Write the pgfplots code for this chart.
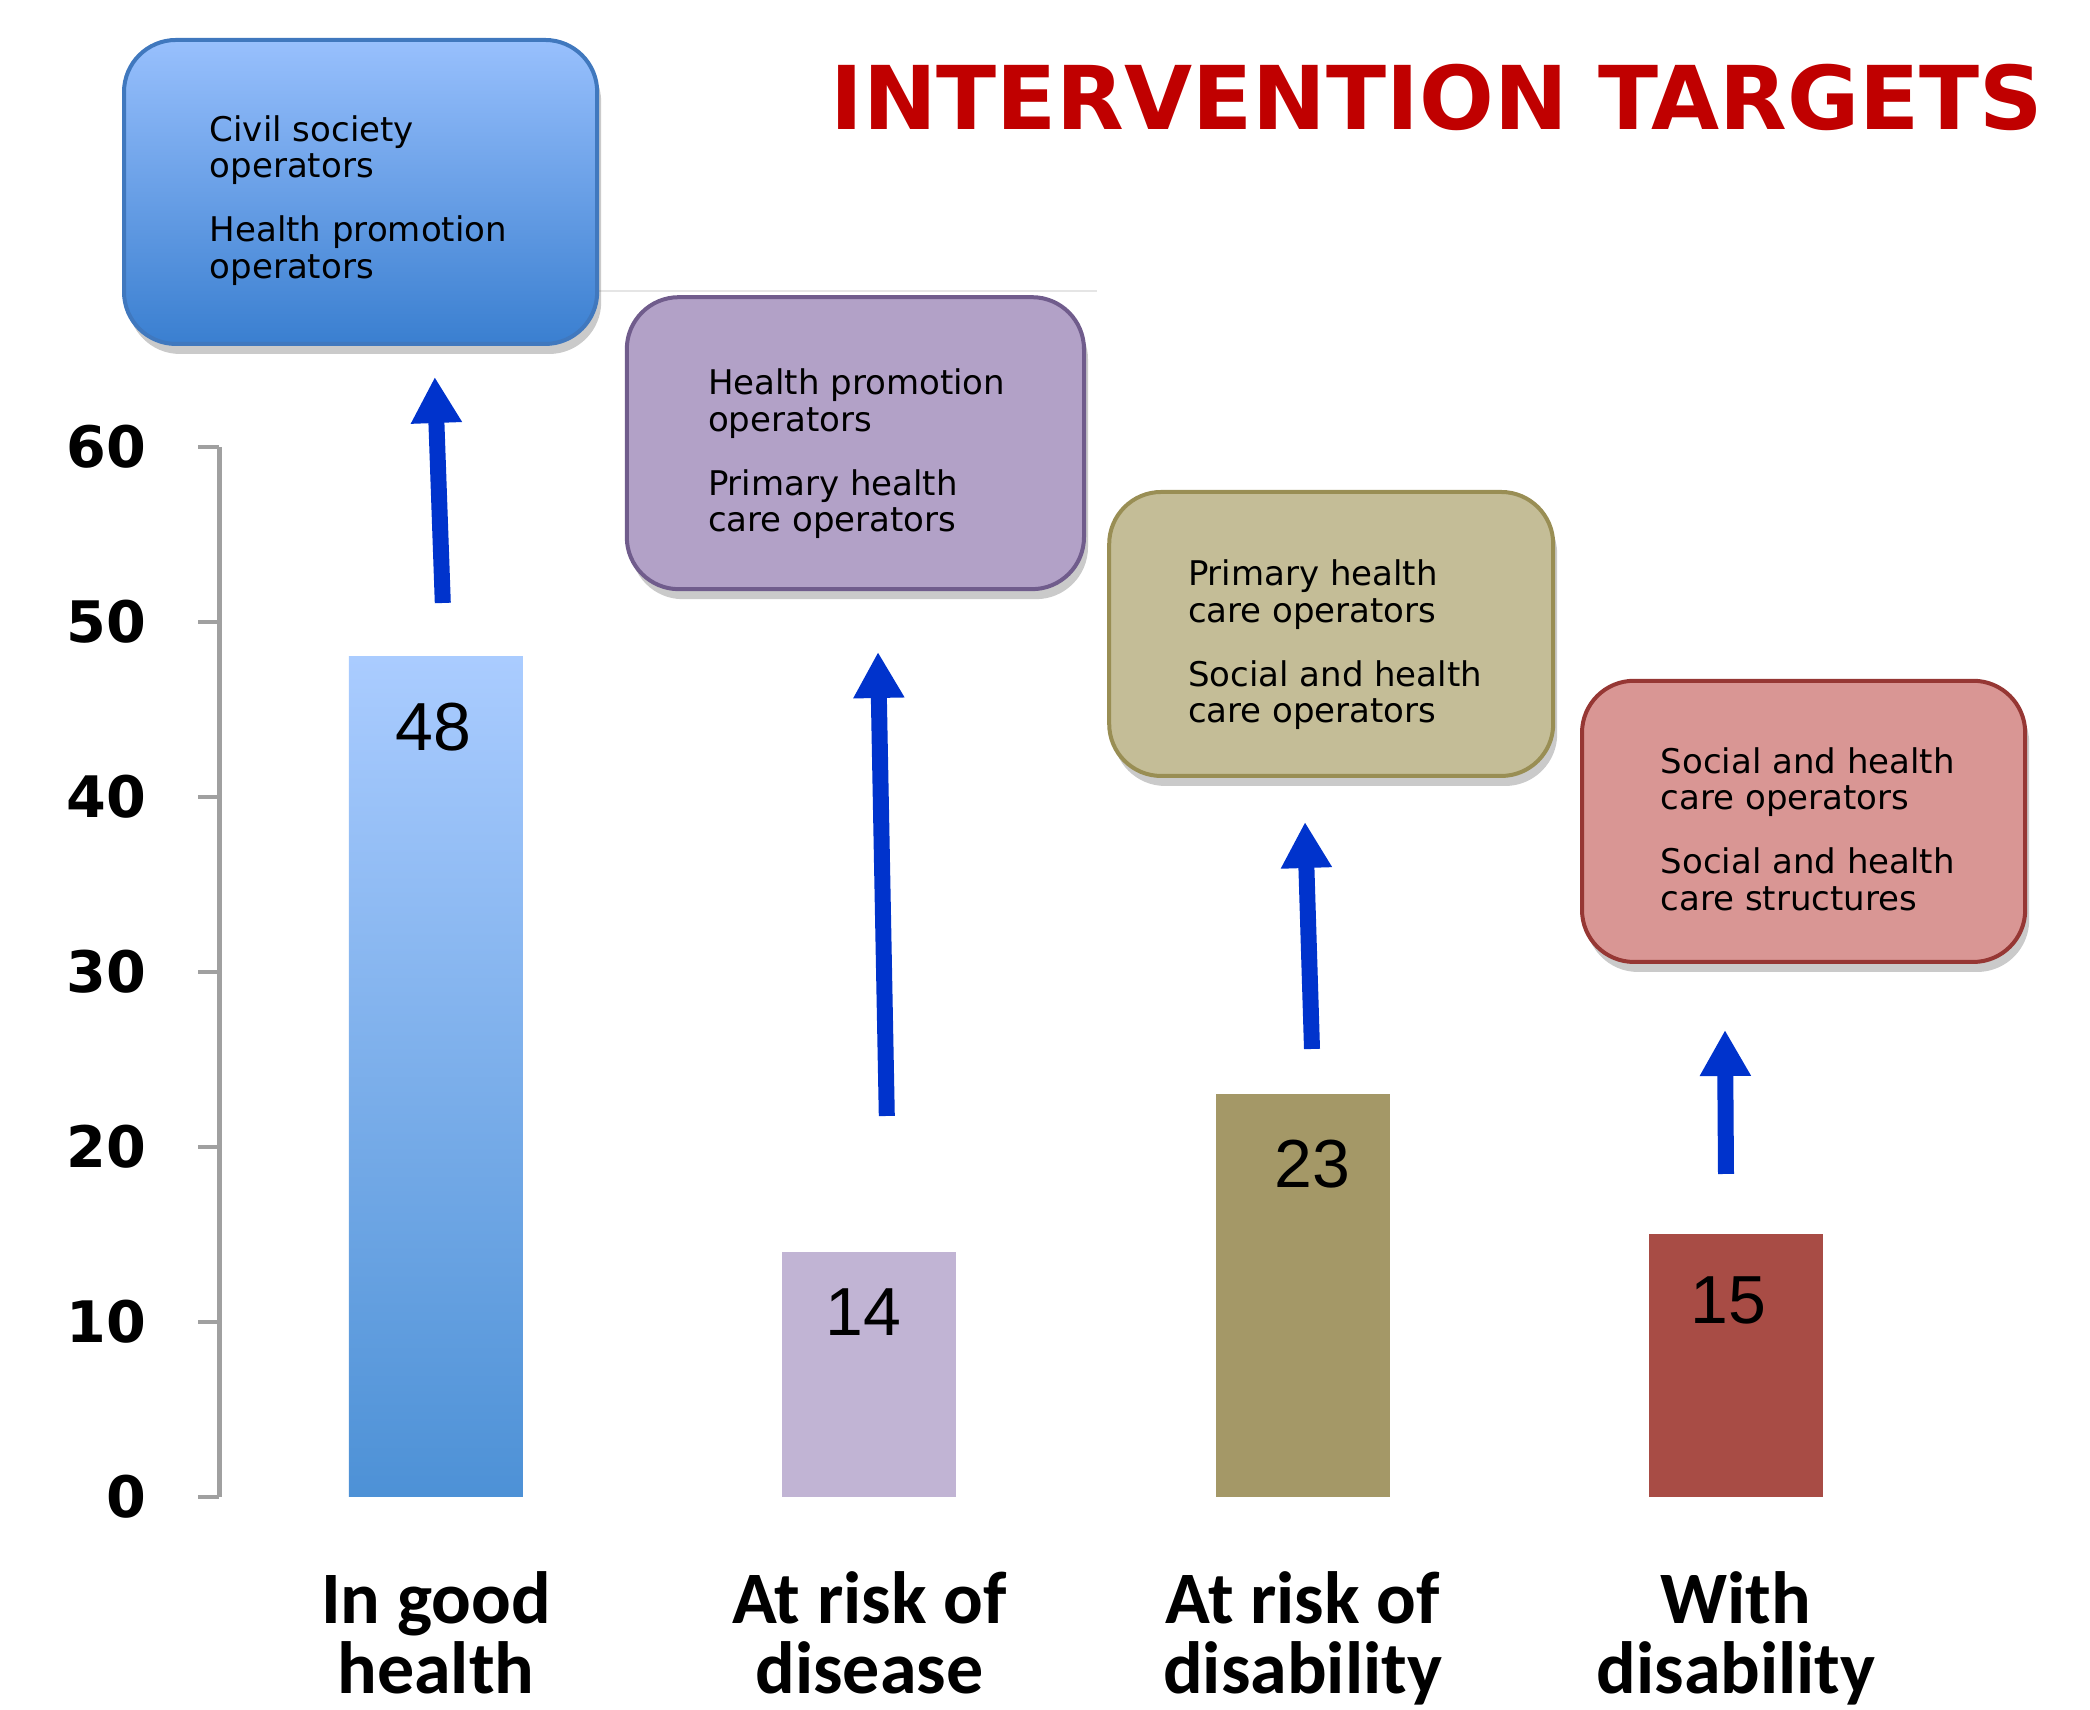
\documentclass[border=0pt]{standalone}
\usepackage{fontspec}
\usepackage{pgfplots}
\pgfplotsset{compat=1.18}
\usetikzlibrary{arrows.meta,shadows}
\setmainfont{DejaVu Sans}
\newfontfamily\carlito{Carlito}
\newfontfamily\dejavu{DejaVu Sans}
\newfontfamily\libsans{Liberation Sans}
\definecolor{axgray}{RGB}{160,160,160}
\definecolor{barAtop}{RGB}{170,204,255}
\definecolor{barAbot}{RGB}{77,145,214}
\definecolor{barB}{RGB}{193,180,212}
\definecolor{barC}{RGB}{164,152,103}
\definecolor{barD}{RGB}{168,76,69}
\definecolor{boxAtop}{RGB}{152,192,253}
\definecolor{boxAbot}{RGB}{58,127,208}
\definecolor{boxAline}{RGB}{64,120,190}
\definecolor{boxB}{RGB}{178,161,199}
\definecolor{boxBline}{RGB}{112,92,140}
\definecolor{boxC}{RGB}{196,189,151}
\definecolor{boxCline}{RGB}{153,142,84}
\definecolor{boxD}{RGB}{217,150,148}
\definecolor{boxDline}{RGB}{150,55,52}
\definecolor{arrowblue}{RGB}{0,51,204}
\definecolor{titlered}{RGB}{192,0,0}
\newcommand{\boxtext}[6]{%
  \node[anchor=base west, inner sep=0pt, font=\dejavu\fontsize{8.5}{9}\selectfont] at (#1pt,#2pt) {#3};
  \node[anchor=base west, inner sep=0pt, font=\dejavu\fontsize{8.5}{9}\selectfont] at (#1pt,#2pt-9.1pt) {#4};
  \node[anchor=base west, inner sep=0pt, font=\dejavu\fontsize{8.5}{9}\selectfont] at (#1pt,#2pt-25.1pt) {#5};
  \node[anchor=base west, inner sep=0pt, font=\dejavu\fontsize{8.5}{9}\selectfont] at (#1pt,#2pt-34.2pt) {#6};
}
\tikzset{boxshadow/.style={drop shadow={shadow xshift=1pt, shadow yshift=-2.5pt, opacity=0.35, fill=black!60}}}
\begin{document}
\begin{tikzpicture}
\useasboundingbox (0,0) rectangle (522.5pt,427.5pt);
\begin{axis}[
  at={(54.83pt,53.25pt)}, anchor=south west,
  scale only axis, width=433.33pt, height=262.5pt,
  xmin=-0.5, xmax=3.5, ymin=0, ymax=60,
  enlargelimits=false, clip=false,
  axis y line=left, axis x line=bottom,
  axis line style={-},
  y axis line style={draw=axgray, line width=1.2pt},
  x axis line style={draw=none},
  tick align=outside,
  ytick={0,10,...,60},
  major tick length=5.25pt,
  ytick style={draw=axgray, line width=1.2pt},
  xtick={0,1,2,3},
  xtick style={draw=none},
  xticklabels={{In good\\health},{At risk of\\disease},{At risk of\\disability},{With\\disability}},
  xticklabel style={align=center, inner sep=0pt, anchor=north, yshift=-13.3pt,
     font=\carlito\bfseries\fontsize{18.5}{17.5}\selectfont},
  /pgf/number format/assume math mode=true,
  yticklabel style={anchor=east, inner sep=0pt, xshift=-12.8pt,
     font=\dejavu\bfseries\fontsize{14.3}{16}\selectfont},
]
\addplot[ybar, bar width=43.5pt, bar shift=0pt, draw=none, top color=barAtop, bottom color=barAbot,
  nodes near coords, every node near coord/.append style={anchor=center, yshift=-17.5pt, xshift=-0.7pt,
  font=\libsans\fontsize{17}{17}\selectfont, text=black}] coordinates {(0,48)};
\addplot[ybar, bar width=43.5pt, bar shift=0pt, draw=none, fill=barB,
  nodes near coords, every node near coord/.append style={anchor=center, yshift=-15pt, xshift=-1.5pt,
  font=\libsans\fontsize{17}{17}\selectfont, text=black}] coordinates {(1,14)};
\addplot[ybar, bar width=43.5pt, bar shift=0pt, draw=none, fill=barC,
  nodes near coords, every node near coord/.append style={anchor=center, yshift=-17.4pt, xshift=2.5pt,
  font=\libsans\fontsize{17}{17}\selectfont, text=black}] coordinates {(2,23)};
\addplot[ybar, bar width=43.5pt, bar shift=0pt, draw=none, fill=barD,
  nodes near coords, every node near coord/.append style={anchor=center, yshift=-16.4pt, xshift=-1.8pt,
  font=\libsans\fontsize{17}{17}\selectfont, text=black}] coordinates {(3,15)};
\end{axis}
% faint separator line
\draw[color=black!10, line width=0.6pt] (149.3pt,354.75pt) -- (274.3pt,354.75pt);
% boxes
\draw[rounded corners=13pt, line width=1pt, draw=boxAline, top color=boxAtop, bottom color=boxAbot, boxshadow]
  (31pt,341.5pt) rectangle (149.3pt,417.5pt);
\draw[rounded corners=13pt, line width=1pt, draw=boxBline, fill=boxB, boxshadow]
  (156.7pt,280.2pt) rectangle (271pt,353.2pt);
\draw[rounded corners=13pt, line width=1pt, draw=boxCline, fill=boxC, boxshadow]
  (277.3pt,233.5pt) rectangle (388.3pt,304.5pt);
\draw[rounded corners=13pt, line width=1pt, draw=boxDline, fill=boxD, boxshadow]
  (395.5pt,187pt) rectangle (506.3pt,257.3pt);
\boxtext{52.25}{392.1}{Civil society}{operators}{Health promotion}{operators}
\boxtext{176.8}{328.75}{Health promotion}{operators}{Primary health}{care operators}
\boxtext{296.8}{281}{Primary health}{care operators}{Social and health}{care operators}
\boxtext{415}{234.15}{Social and health}{care operators}{Social and health}{care structures}
% arrows
\tikzset{bluearrow/.style={draw=arrowblue, line width=4pt, -{Triangle[width=12pt,length=11.5pt]}}}
\draw[bluearrow] (110.7pt,276.75pt) -- (108.7pt,333.25pt);
\draw[bluearrow] (221.7pt,148.5pt) -- (219.5pt,264.5pt);
\draw[bluearrow] (328pt,165.25pt) -- (326.25pt,222pt);
\draw[bluearrow] (431.5pt,134pt) -- (431.25pt,170pt);
% title
\node[anchor=base west, inner sep=0pt, text=titlered, font=\dejavu\bfseries\fontsize{22}{24}\selectfont]
  at (207.4pt,395pt) {INTERVENTION TARGETS};
\end{tikzpicture}
\end{document}
